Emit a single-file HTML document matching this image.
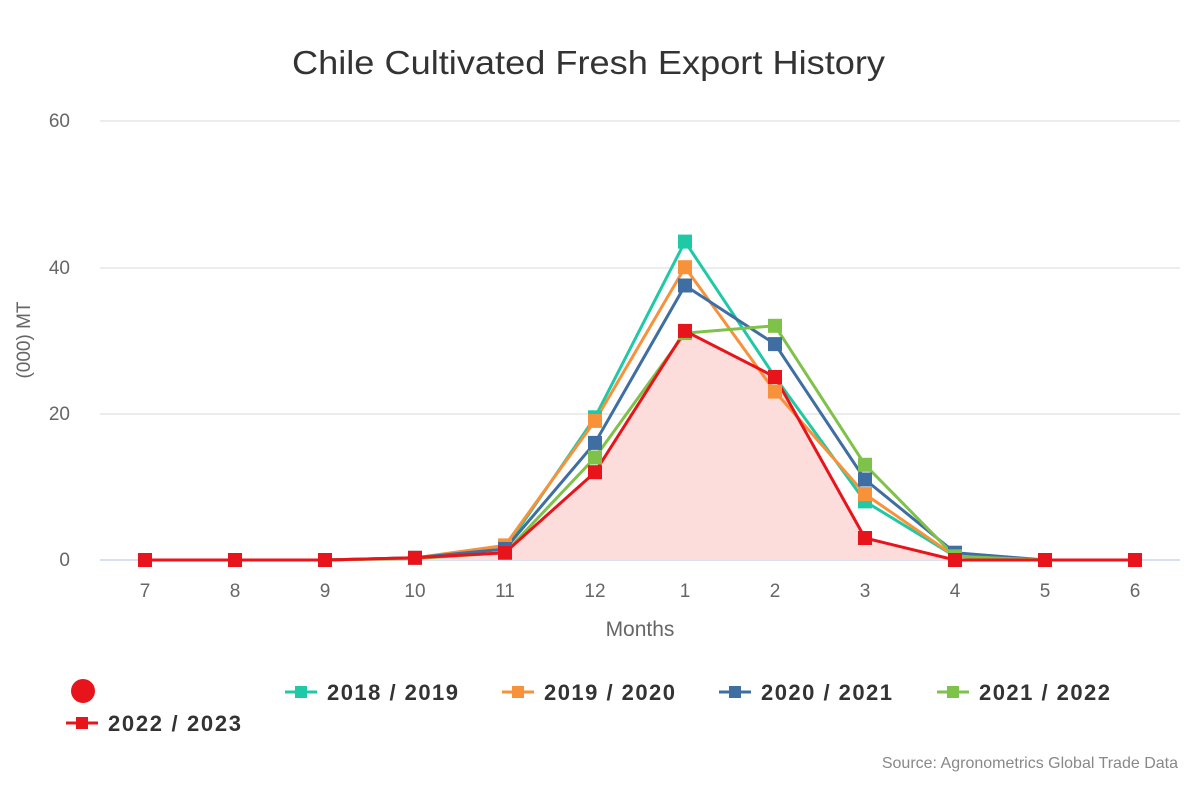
<!DOCTYPE html>
<html><head><meta charset="utf-8"><style>
body{margin:0;background:#fff;width:1200px;height:800px;overflow:hidden;font-family:"Liberation Sans",sans-serif}
</style></head><body>
<svg width="1200" height="800" xmlns="http://www.w3.org/2000/svg" font-family="Liberation Sans, sans-serif">
<text x="292" y="74" font-size="33" fill="#333" textLength="593" lengthAdjust="spacingAndGlyphs">Chile Cultivated Fresh Export History</text>
<g stroke="#e6e6e6" stroke-width="1.5">
<line x1="100" y1="121" x2="1180" y2="121"/><line x1="100" y1="268" x2="1180" y2="268"/><line x1="100" y1="414" x2="1180" y2="414"/>
</g>
<line x1="100" y1="560" x2="1180" y2="560" stroke="#ccd6eb" stroke-width="1.5"/>
<g font-size="19" fill="#666" text-anchor="end">
<text x="70" y="127">60</text><text x="70" y="274">40</text><text x="70" y="420">20</text><text x="70" y="566">0</text>
</g>
<text transform="translate(30,340) rotate(-90)" font-size="19" fill="#666" text-anchor="middle">(000) MT</text>
<g font-size="19" fill="#666" text-anchor="middle">
<text x="145" y="597">7</text><text x="235" y="597">8</text><text x="325" y="597">9</text><text x="415" y="597">10</text><text x="505" y="597">11</text><text x="595" y="597">12</text><text x="685" y="597">1</text><text x="775" y="597">2</text><text x="865" y="597">3</text><text x="955" y="597">4</text><text x="1045" y="597">5</text><text x="1135" y="597">6</text>
</g>
<text x="640" y="636" font-size="21" fill="#666" text-anchor="middle">Months</text>
<path fill="#fddcdc" d="M145,560 L145,560 235,560 325,560 415,557.8 505,552.7 595,472.2 685,330.9 775,377 865,538 955,560 1045,560 1135,560 Z"/>
<defs><rect id="m" x="-7" y="-7" width="14" height="14"/></defs>
<g fill="none" stroke-width="3" stroke-linejoin="round">
<polyline stroke="#1fc9a5" points="145,560 235,560 325,560 415,557.8 505,549 595,417.3 685,241.6 775,377 865,501.4 955,556.3 1045,560 1135,560"/>
<polyline stroke="#f7923a" points="145,560 235,560 325,560 415,557.8 505,545.4 595,420.9 685,267.2 775,391.6 865,494.1 955,556.3 1045,560 1135,560"/>
<polyline stroke="#3f6ea3" points="145,560 235,560 325,560 415,557.8 505,549 595,442.9 685,285.5 775,344.1 865,479.5 955,552.7 1045,560 1135,560"/>
<polyline stroke="#7ec24a" points="145,560 235,560 325,560 415,558.5 505,552.7 595,457.5 685,333.1 775,325.8 865,464.8 955,556.3 1045,560 1135,560"/>
<polyline stroke="#e8141c" points="145,560 235,560 325,560 415,557.8 505,552.7 595,472.2 685,330.9 775,377 865,538 955,560 1045,560 1135,560"/>
</g>
<g fill="#1fc9a5">
<use href="#m" x="415" y="557.8"/><use href="#m" x="505" y="549"/><use href="#m" x="595" y="417.3"/><use href="#m" x="685" y="241.6"/><use href="#m" x="775" y="377"/><use href="#m" x="865" y="501.4"/><use href="#m" x="955" y="556.3"/>
</g>
<g fill="#f7923a">
<use href="#m" x="505" y="545.4"/><use href="#m" x="595" y="420.9"/><use href="#m" x="685" y="267.2"/><use href="#m" x="775" y="391.6"/><use href="#m" x="865" y="494.1"/><use href="#m" x="955" y="556.3"/>
</g>
<g fill="#3f6ea3">
<use href="#m" x="505" y="549"/><use href="#m" x="595" y="442.9"/><use href="#m" x="685" y="285.5"/><use href="#m" x="775" y="344.1"/><use href="#m" x="865" y="479.5"/><use href="#m" x="955" y="552.7"/>
</g>
<g fill="#7ec24a">
<use href="#m" x="505" y="552.7"/><use href="#m" x="595" y="457.5"/><use href="#m" x="685" y="333.1"/><use href="#m" x="775" y="325.8"/><use href="#m" x="865" y="464.8"/><use href="#m" x="955" y="556.3"/>
</g>
<g fill="#e8141c">
<use href="#m" x="145" y="560"/><use href="#m" x="235" y="560"/><use href="#m" x="325" y="560"/><use href="#m" x="415" y="557.8"/><use href="#m" x="505" y="552.7"/><use href="#m" x="595" y="472.2"/><use href="#m" x="685" y="330.9"/><use href="#m" x="775" y="377"/><use href="#m" x="865" y="538"/><use href="#m" x="955" y="560"/><use href="#m" x="1045" y="560"/><use href="#m" x="1135" y="560"/>
</g>
<circle cx="83" cy="691" r="12" fill="#e8141c"/>
<g font-size="22" font-weight="bold" fill="#333">
<line x1="285" y1="692" x2="317" y2="692" stroke="#1fc9a5" stroke-width="3"/><rect x="295" y="686" width="12" height="12" fill="#1fc9a5"/><text x="327" y="700" textLength="131">2018 / 2019</text>
<line x1="502" y1="692" x2="534" y2="692" stroke="#f7923a" stroke-width="3"/><rect x="512" y="686" width="12" height="12" fill="#f7923a"/><text x="544" y="700" textLength="131">2019 / 2020</text>
<line x1="719" y1="692" x2="751" y2="692" stroke="#3f6ea3" stroke-width="3"/><rect x="729" y="686" width="12" height="12" fill="#3f6ea3"/><text x="761" y="700" textLength="131">2020 / 2021</text>
<line x1="937" y1="692" x2="969" y2="692" stroke="#7ec24a" stroke-width="3"/><rect x="947" y="686" width="12" height="12" fill="#7ec24a"/><text x="979" y="700" textLength="131">2021 / 2022</text>
<line x1="66" y1="723" x2="98" y2="723" stroke="#e8141c" stroke-width="3"/><rect x="76" y="717" width="12" height="12" fill="#e8141c"/><text x="108" y="731" textLength="133">2022 / 2023</text>
</g>
<text x="1178" y="768" font-size="16" fill="#888" text-anchor="end">Source: Agronometrics Global Trade Data</text>
</svg>
</body></html>
